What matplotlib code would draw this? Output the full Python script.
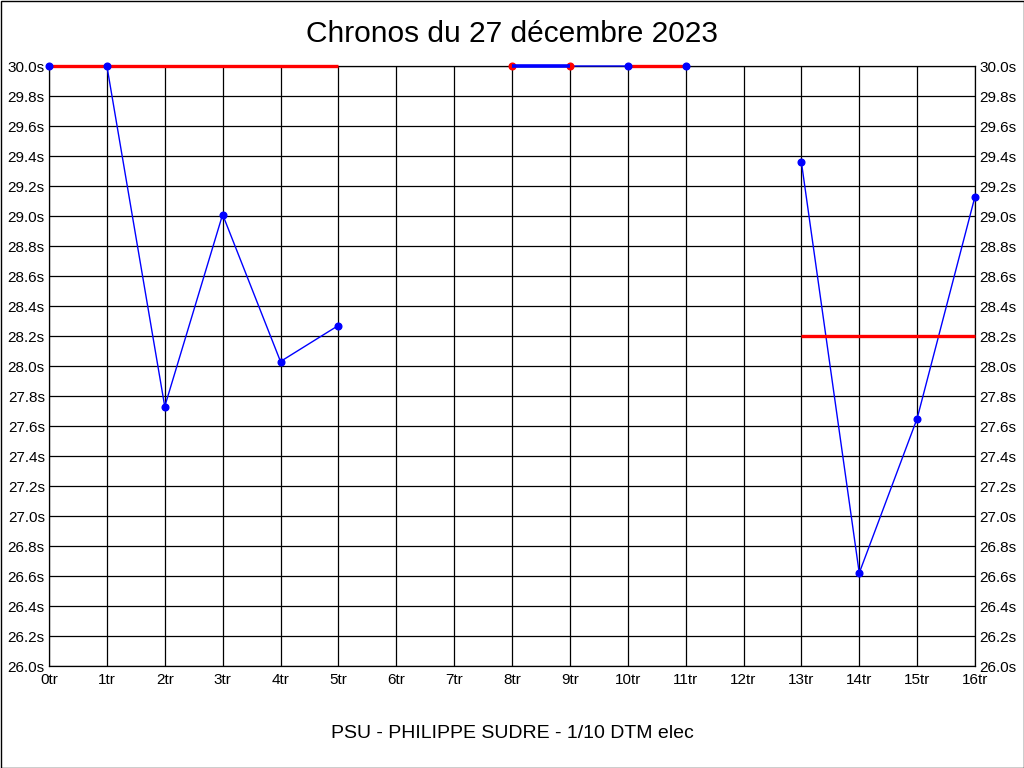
import numpy as np
import matplotlib
matplotlib.use("Agg")
import matplotlib.pyplot as plt
from matplotlib.patches import Rectangle

plt.rcParams['font.family'] = ['Liberation Sans', 'DejaVu Sans']

title = "Chronos du 27 décembre 2023"
footer = "PSU - PHILIPPE SUDRE - 1/10 DTM elec"

laps = list(range(17))
nan = np.nan
times = [30.0, 30.0, 27.73, 29.01, 28.03, 28.27, nan, nan,
         30.0, 30.0, 30.0, 30.0, nan, 29.36, 26.62, 27.65, 29.13]

# reference (red) segments: start lap, end lap, value
red_segments = [(0, 5, 30.0), (10, 11, 30.0), (13, 16, 28.2)]
# thick blue segment
blue_segments = [(8, 9, 30.0)]
# laps drawn with red markers
red_marker_laps = [8, 9]

y_ticks = [26.0 + 0.2 * i for i in range(21)]
y_labels = [f"{v:.1f}s" for v in y_ticks]
x_labels = [f"{i}tr" for i in laps]

fig = plt.figure(figsize=(10.24, 7.68), dpi=100, facecolor='white')
ax = fig.add_axes([49/1024, 1 - 666/768, (975-49)/1024, 600/768])

ax.set_xlim(0, 16)
ax.set_ylim(26.0, 30.0)
ax.set_xticks(laps)
ax.set_xticklabels(x_labels)
ax.set_yticks(y_ticks)
ax.set_yticklabels(y_labels)
ax.tick_params(axis='both', length=0, labelsize=11, colors='black')
ax.tick_params(axis='y', pad=3, labelright=True, right=False)
ax.tick_params(axis='x', pad=5)
ax.grid(True, color='black', linewidth=0.9)
ax.set_axisbelow(True)
for s in ax.spines.values():
    s.set_color('black')
    s.set_linewidth(0.9)

# main blue line
ax.plot(laps, times, color='blue', linewidth=1.0, zorder=3, clip_on=False)

# red reference lines
for a, b, v in red_segments:
    ax.plot([a, b], [v, v], color='red', linewidth=2.4, zorder=4, clip_on=False,
            solid_capstyle='butt')

# thick blue segments
for a, b, v in blue_segments:
    ax.plot([a, b], [v, v], color='blue', linewidth=2.6, zorder=4, clip_on=False,
            solid_capstyle='butt')

# markers
blue_x = [l for l, t in zip(laps, times) if not np.isnan(t) and l not in red_marker_laps]
blue_y = [times[l] for l in blue_x]
ax.plot(blue_x, blue_y, linestyle='none', marker='o', markersize=4.8,
        color='blue', zorder=5, clip_on=False)
red_y = [times[l] for l in red_marker_laps]
ax.plot(red_marker_laps, red_y, linestyle='none', marker='o', markersize=4.8,
        color='red', zorder=3.5, clip_on=False)

fig.text(0.5, 1 - 34/768, title, ha='center', va='center', fontsize=21.5)
fig.text(0.5, 1 - 733/768, footer, ha='center', va='center', fontsize=14)

fig.patches.append(Rectangle((0.5/1024, 0.5/768), 1 - 1/1024, 1 - 1/768,
                             transform=fig.transFigure, fill=False,
                             edgecolor='black', linewidth=1.0))

fig.savefig("out.png", dpi=100)
